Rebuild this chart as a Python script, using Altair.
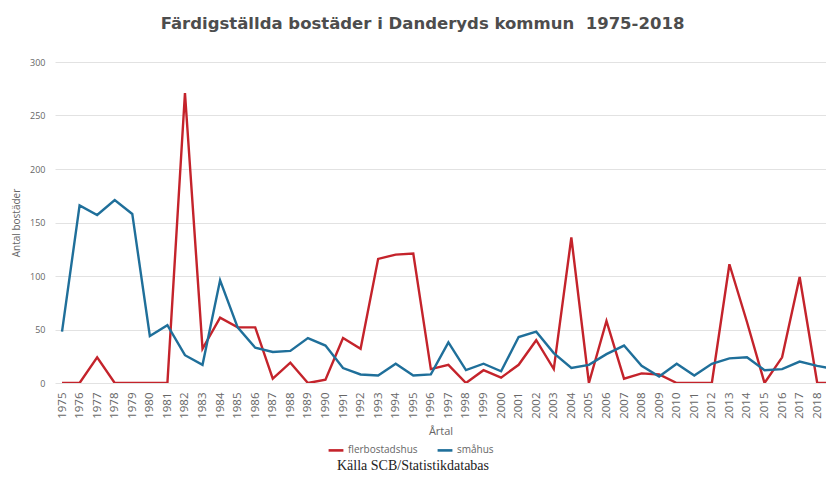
import altair as alt
import pandas as pd

years = list(range(1975, 2020))
flerbostadshus = [0, 0, 24, 0, 0, 0, 0, 271, 32, 61, 52, 52, 4, 19, 0, 3, 42, 32, 116, 120,
                  121, 13, 17, 0, 12, 5, 17, 40, 13, 136, 0, 58, 4, 9, 8, 0, 0, 0, 111, 57,
                  0, 24, 99, 0, 0]
smahus = [48, 166, 157, 171, 158, 44, 54, 26, 17, 96, 52, 33, 29, 30, 42, 35, 14, 8, 7, 18,
          7, 8, 38, 12, 18, 11, 43, 48, 28, 14, 17, 27, 35, 16, 6, 18, 7, 18, 23, 24,
          12, 13, 20, 16, 13]
series_names = ["flerbostadshus", "småhus"]
series_colors = ["#c4232b", "#1f6f9a"]

df = pd.DataFrame({"År": years, "flerbostadshus": flerbostadshus, "småhus": smahus})
long = df.melt(id_vars="År", var_name="Typ", value_name="Antal")

base_font = "Open Sans"
gray = "#666666"

lines = alt.Chart(long).mark_line(strokeWidth=2.4, clip=True).encode(
    x=alt.X("År:Q",
            scale=alt.Scale(domain=[1974.6, 2018.5], nice=False, zero=False),
            axis=alt.Axis(values=years, format="d", labelAngle=-90, labelAlign="right",
                          labelBaseline="middle", labelOverlap=False, labelFontSize=11.5,
                          labelColor=gray, labelFont=base_font, ticks=False, domain=False,
                          grid=False, title="Årtal", titleFont=base_font, titleFontSize=11,
                          titleFontWeight="normal", titleColor=gray, titlePadding=7,
                          labelPadding=9, labelFlush=False)),
    y=alt.Y("Antal:Q",
            scale=alt.Scale(domain=[0, 300], nice=False),
            axis=alt.Axis(values=[0, 50, 100, 150, 200, 250, 300], labelFontSize=9,
                          labelColor=gray, labelFont=base_font, ticks=False, domain=False,
                          gridColor="#e2e2e2", gridWidth=1, labelPadding=10,
                          title="Antal bostäder", titleFont=base_font, titleFontSize=10,
                          titleFontWeight="normal", titleColor=gray, titlePadding=8)),
    color=alt.Color("Typ:N",
                    scale=alt.Scale(domain=series_names, range=series_colors),
                    legend=alt.Legend(orient="none", legendX=272, legendY=379,
                                      direction="horizontal", title=None,
                                      symbolType="stroke", symbolStrokeWidth=2.6,
                                      symbolSize=220, labelFontSize=10, labelColor=gray,
                                      labelFont=base_font, columnPadding=14,
                                      labelOffset=3)),
)

source = alt.Chart(pd.DataFrame({"t": ["Källa SCB/Statistikdatabas"]})).mark_text(
    font="Liberation Serif", fontSize=14, color="#222222", align="center", baseline="middle"
).encode(text="t:N", x=alt.value(358), y=alt.value(404))

chart = alt.layer(lines, source).properties(
    width=771, height=321,
    autosize=alt.AutoSizeParams(type="none"),
    padding={"left": 47, "top": 54, "right": 0, "bottom": 93},
    title=alt.TitleParams("Färdigställda bostäder i Danderyds kommun\u00a0\u00a01975-2018",
                          font="DejaVu Sans", fontSize=16.5, fontWeight="bold",
                          color="#4d4d4d", anchor="middle", dx=-18, offset=26),
).configure_view(stroke=None)

chart.save("out.html", embed_options={"renderer": "svg", "actions": False})
